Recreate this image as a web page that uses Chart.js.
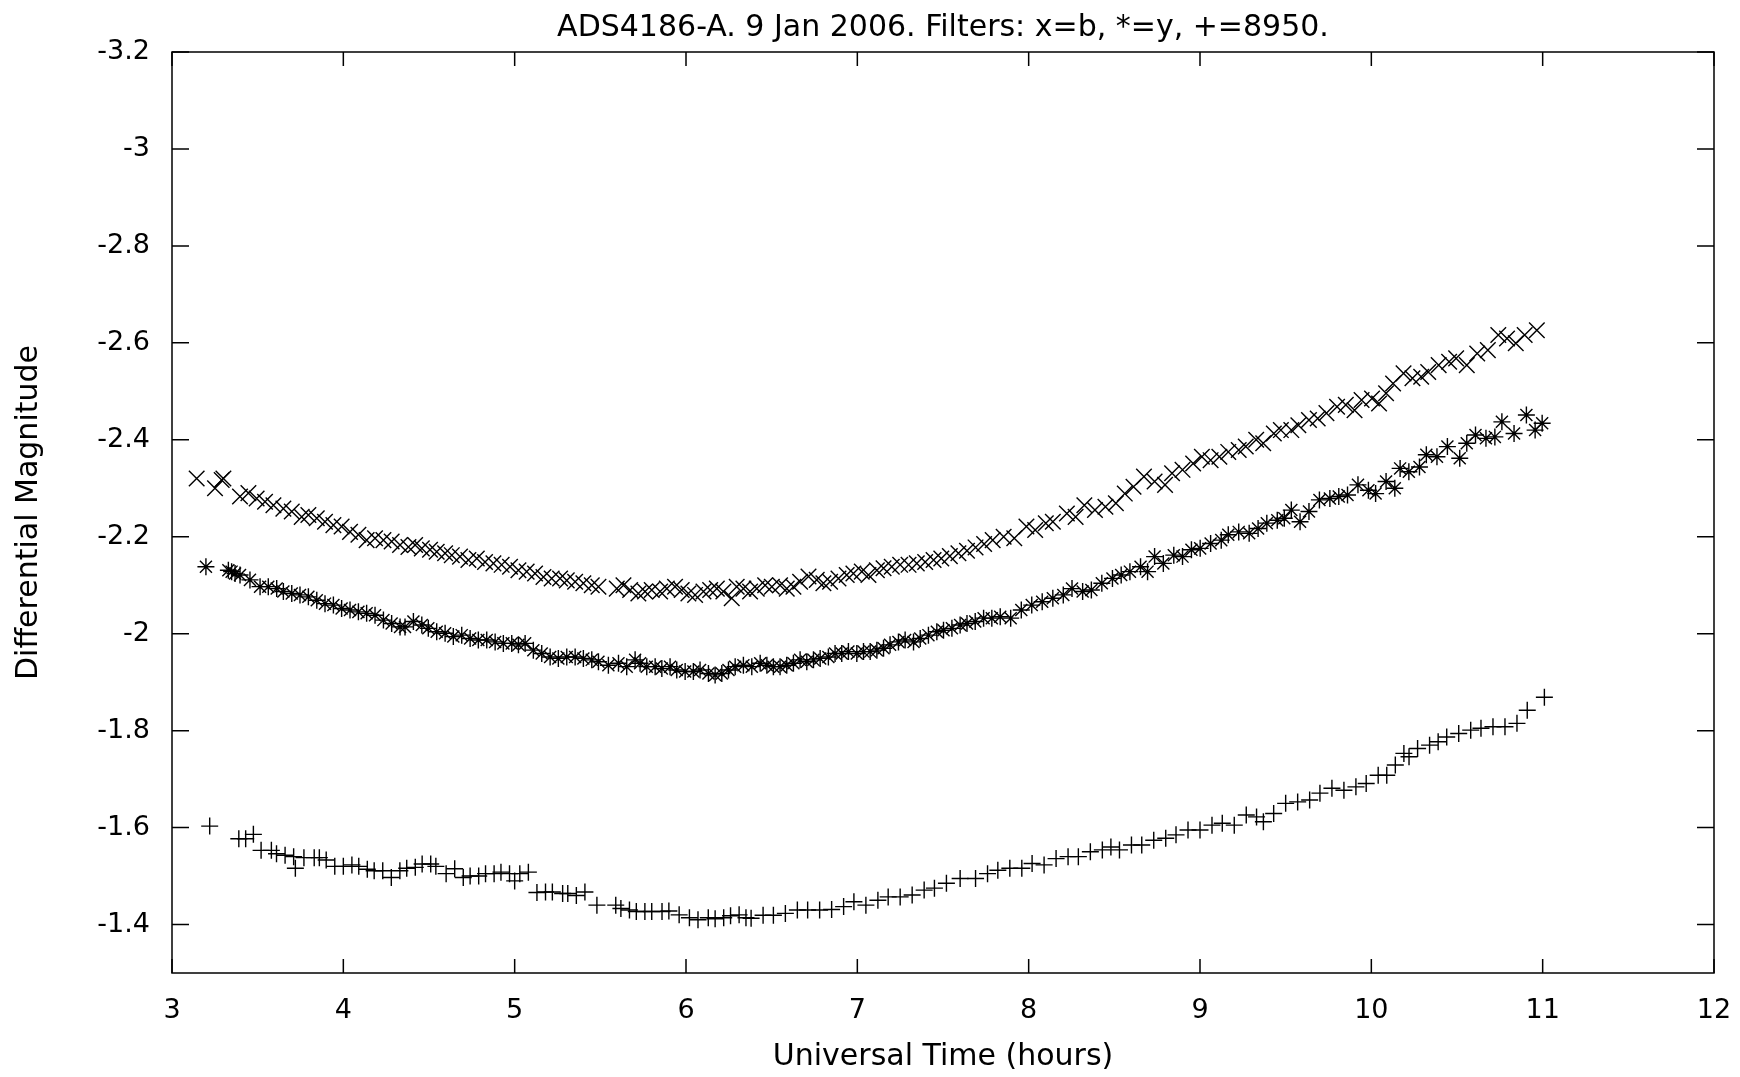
<!DOCTYPE html>
<html>
<head>
<meta charset="utf-8">
<title>ADS4186-A light curve</title>
<script src="https://cdn.jsdelivr.net/npm/chart.js@4.4.1/dist/chart.umd.min.js"></script>
<style>
  html, body { margin: 0; padding: 0; background: #fff; }
  #wrap { width: 1740px; height: 1077px; }
</style>
</head>
<body>
<div id="wrap"><canvas id="lc" width="1740" height="1077"></canvas></div>
<script>
// ---- data ----
const xTicks = [3, 4, 5, 6, 7, 8, 9, 10, 11, 12];
const yTicks = [-3.2, -3.0, -2.8, -2.6, -2.4, -2.2, -2.0, -1.8, -1.6, -1.4];

// x = b filter
const bTimes = [3.144, 3.251, 3.290, 3.300, 3.397, 3.446, 3.494, 3.543, 3.592, 3.650, 3.699, 3.757, 3.796, 3.845, 3.893, 3.942, 3.990, 4.039, 4.088, 4.136,
  4.185, 4.234, 4.282, 4.331, 4.380, 4.419, 4.458, 4.506, 4.545, 4.594, 4.633, 4.681, 4.730, 4.779, 4.827, 4.876, 4.924, 4.973, 5.022, 5.070,
  5.119, 5.168, 5.216, 5.265, 5.304, 5.353, 5.401, 5.450, 5.489, 5.596, 5.635, 5.674, 5.722, 5.761, 5.800, 5.849, 5.888, 5.936, 5.975, 6.014,
  6.053, 6.102, 6.141, 6.180, 6.218, 6.267, 6.296, 6.335, 6.374, 6.413, 6.462, 6.501, 6.549, 6.588, 6.627, 6.666, 6.715, 6.763, 6.802, 6.841,
  6.890, 6.938, 6.977, 7.026, 7.065, 7.114, 7.153, 7.201, 7.250, 7.299, 7.347, 7.396, 7.445, 7.49, 7.54, 7.59, 7.64, 7.69, 7.74, 7.79,
  7.854, 7.916, 7.987, 8.038, 8.100, 8.141, 8.223, 8.274, 8.325, 8.387, 8.448, 8.509, 8.561, 8.612, 8.673, 8.735, 8.796, 8.837, 8.898, 8.960,
  9.011, 9.062, 9.113, 9.165, 9.226, 9.267, 9.328, 9.369, 9.431, 9.472, 9.533, 9.574, 9.636, 9.687, 9.738, 9.800, 9.851, 9.902, 9.943, 10.004,
  10.045, 10.086, 10.127, 10.188, 10.240, 10.291, 10.332, 10.393, 10.454, 10.495, 10.557, 10.618, 10.680, 10.741, 10.792, 10.843, 10.895, 10.966];
const bMags = [-2.320, -2.300, -2.317, -2.320, -2.283, -2.290, -2.279, -2.272, -2.265, -2.258, -2.252, -2.241, -2.245, -2.238, -2.231, -2.224, -2.221, -2.210, -2.204, -2.193,
  -2.197, -2.193, -2.190, -2.183, -2.179, -2.183, -2.176, -2.173, -2.169, -2.166, -2.162, -2.159, -2.152, -2.155, -2.148, -2.145, -2.142, -2.138, -2.131, -2.128,
  -2.124, -2.117, -2.114, -2.114, -2.110, -2.107, -2.104, -2.100, -2.097, -2.093, -2.100, -2.090, -2.083, -2.087, -2.090, -2.087, -2.093, -2.097, -2.090, -2.083,
  -2.080, -2.087, -2.090, -2.093, -2.087, -2.073, -2.097, -2.093, -2.087, -2.093, -2.100, -2.097, -2.100, -2.093, -2.097, -2.107, -2.118, -2.111, -2.104, -2.107,
  -2.114, -2.121, -2.124, -2.128, -2.121, -2.131, -2.135, -2.138, -2.142, -2.142, -2.145, -2.148, -2.152, -2.155, -2.160, -2.166, -2.171, -2.178, -2.185, -2.193,
  -2.200, -2.197, -2.221, -2.214, -2.228, -2.231, -2.248, -2.241, -2.265, -2.255, -2.262, -2.269, -2.289, -2.303, -2.324, -2.314, -2.307, -2.331, -2.338, -2.351,
  -2.365, -2.358, -2.365, -2.375, -2.379, -2.386, -2.400, -2.393, -2.413, -2.420, -2.420, -2.430, -2.441, -2.444, -2.455, -2.468, -2.472, -2.461, -2.482, -2.485,
  -2.475, -2.496, -2.516, -2.537, -2.527, -2.530, -2.540, -2.554, -2.561, -2.568, -2.554, -2.578, -2.585, -2.616, -2.609, -2.599, -2.616, -2.626];

// * = y filter
const yTimes = [3.198, 3.329, 3.348, 3.368, 3.397, 3.455, 3.514, 3.562, 3.611, 3.650, 3.699, 3.747, 3.796, 3.845, 3.893, 3.942, 3.990, 4.039, 4.088, 4.136,
  4.185, 4.234, 4.282, 4.331, 4.360, 4.409, 4.458, 4.496, 4.545, 4.594, 4.642, 4.691, 4.740, 4.788, 4.837, 4.886, 4.934, 4.983, 5.022, 5.061,
  5.109, 5.158, 5.207, 5.255, 5.304, 5.353, 5.401, 5.450, 5.489, 5.547, 5.606, 5.654, 5.703, 5.732, 5.771, 5.820, 5.859, 5.907, 5.946, 5.995,
  6.043, 6.082, 6.131, 6.170, 6.209, 6.248, 6.287, 6.335, 6.384, 6.433, 6.472, 6.510, 6.549, 6.588, 6.627, 6.666, 6.705, 6.744, 6.783, 6.831,
  6.870, 6.909, 6.948, 6.997, 7.036, 7.075, 7.114, 7.153, 7.191, 7.240, 7.279, 7.328, 7.367, 7.415, 7.464, 7.503, 7.552, 7.600, 7.640, 7.688,
  7.737, 7.785, 7.834, 7.895, 7.957, 8.018, 8.079, 8.141, 8.202, 8.253, 8.315, 8.366, 8.427, 8.489, 8.540, 8.591, 8.653, 8.694, 8.735, 8.786,
  8.847, 8.898, 8.950, 9.001, 9.062, 9.124, 9.165, 9.226, 9.287, 9.339, 9.390, 9.451, 9.492, 9.533, 9.584, 9.636, 9.697, 9.758, 9.810, 9.861,
  9.922, 9.983, 10.025, 10.086, 10.137, 10.168, 10.219, 10.281, 10.321, 10.383, 10.444, 10.516, 10.557, 10.608, 10.669, 10.721, 10.762, 10.833, 10.905, 10.956,
  10.997];
const yMags = [-2.138, -2.131, -2.128, -2.124, -2.121, -2.111, -2.097, -2.097, -2.093, -2.087, -2.083, -2.080, -2.076, -2.069, -2.062, -2.059, -2.052, -2.049, -2.045, -2.042,
  -2.038, -2.028, -2.021, -2.014, -2.014, -2.025, -2.018, -2.011, -2.004, -2.001, -1.994, -1.997, -1.990, -1.987, -1.987, -1.983, -1.980, -1.980, -1.977, -1.980,
  -1.966, -1.959, -1.952, -1.949, -1.952, -1.952, -1.949, -1.946, -1.942, -1.935, -1.939, -1.932, -1.946, -1.939, -1.932, -1.932, -1.928, -1.932, -1.925, -1.922,
  -1.922, -1.925, -1.918, -1.915, -1.918, -1.925, -1.932, -1.935, -1.932, -1.939, -1.935, -1.932, -1.932, -1.935, -1.939, -1.946, -1.942, -1.946, -1.949, -1.952,
  -1.959, -1.959, -1.963, -1.959, -1.963, -1.963, -1.966, -1.970, -1.977, -1.983, -1.987, -1.983, -1.990, -1.997, -2.004, -2.007, -2.011, -2.018, -2.021, -2.025,
  -2.032, -2.032, -2.035, -2.032, -2.049, -2.059, -2.066, -2.073, -2.080, -2.093, -2.087, -2.090, -2.104, -2.114, -2.121, -2.128, -2.138, -2.128, -2.159, -2.145,
  -2.162, -2.159, -2.173, -2.176, -2.186, -2.193, -2.204, -2.210, -2.207, -2.217, -2.228, -2.234, -2.238, -2.255, -2.231, -2.252, -2.276, -2.279, -2.283, -2.286,
  -2.307, -2.296, -2.289, -2.314, -2.300, -2.341, -2.334, -2.344, -2.369, -2.365, -2.386, -2.362, -2.393, -2.410, -2.403, -2.406, -2.437, -2.413, -2.451, -2.420,
  -2.434];

// + = 8950 filter
const nTimes = [3.22, 3.39, 3.43, 3.475, 3.52, 3.58, 3.61, 3.66, 3.71, 3.72, 3.77, 3.83, 3.86, 3.90, 3.95, 4.00, 4.05, 4.09, 4.14, 4.18,
  4.23, 4.28, 4.33, 4.37, 4.42, 4.46, 4.51, 4.54, 4.60, 4.65, 4.70, 4.74, 4.79, 4.83, 4.88, 4.92, 4.97, 5.00, 5.03, 5.08,
  5.13, 5.18, 5.22, 5.28, 5.31, 5.36, 5.41, 5.48, 5.59, 5.62, 5.67, 5.71, 5.76, 5.80, 5.86, 5.90, 5.96, 6.02, 6.07, 6.13,
  6.17, 6.22, 6.26, 6.31, 6.35, 6.38, 6.45, 6.51, 6.58, 6.65, 6.71, 6.78, 6.85, 6.92, 6.98, 7.05, 7.12, 7.18, 7.25, 7.32,
  7.39, 7.45, 7.52, 7.60, 7.69, 7.76, 7.82, 7.89, 7.96, 8.02, 8.09, 8.16, 8.23, 8.29, 8.36, 8.43, 8.48, 8.53, 8.60, 8.66,
  8.73, 8.80, 8.86, 8.93, 9.00, 9.07, 9.13, 9.20, 9.27, 9.33, 9.37, 9.43, 9.50, 9.57, 9.64, 9.70, 9.77, 9.84, 9.91, 9.97,
  10.04, 10.09, 10.14, 10.19, 10.22, 10.27, 10.34, 10.39, 10.44, 10.51, 10.58, 10.64, 10.71, 10.78, 10.85, 10.91, 11.01];
const nMags = [-1.603, -1.577, -1.577, -1.586, -1.553, -1.553, -1.546, -1.543, -1.540, -1.516, -1.538, -1.538, -1.538, -1.533, -1.520, -1.520, -1.523, -1.520, -1.514, -1.511,
  -1.511, -1.497, -1.511, -1.516, -1.518, -1.525, -1.525, -1.520, -1.505, -1.515, -1.497, -1.500, -1.500, -1.505, -1.505, -1.508, -1.505, -1.490, -1.505, -1.508,
  -1.466, -1.467, -1.467, -1.464, -1.464, -1.460, -1.467, -1.440, -1.440, -1.433, -1.430, -1.427, -1.427, -1.427, -1.427, -1.428, -1.420, -1.414, -1.410, -1.414,
  -1.412, -1.414, -1.418, -1.420, -1.414, -1.413, -1.419, -1.419, -1.423, -1.430, -1.430, -1.430, -1.431, -1.437, -1.447, -1.440, -1.450, -1.457, -1.457, -1.461,
  -1.471, -1.475, -1.485, -1.495, -1.495, -1.505, -1.512, -1.516, -1.516, -1.526, -1.523, -1.536, -1.540, -1.540, -1.550, -1.554, -1.560, -1.554, -1.564, -1.564,
  -1.574, -1.578, -1.585, -1.595, -1.595, -1.605, -1.609, -1.605, -1.626, -1.622, -1.612, -1.629, -1.650, -1.653, -1.657, -1.671, -1.681, -1.677, -1.684, -1.691,
  -1.708, -1.708, -1.729, -1.753, -1.746, -1.763, -1.770, -1.777, -1.787, -1.794, -1.801, -1.805, -1.808, -1.808, -1.815, -1.842, -1.869];

const FONT = "'DejaVu Sans', 'Liberation Sans', sans-serif";

function pairs(xs, ys) {
  return xs.map((x, i) => ({ x: x, y: ys[i] }));
}

function series(label, xs, ys, style, r) {
  return {
    label: label,
    data: pairs(xs, ys),
    showLine: false,
    pointStyle: style,
    pointRadius: r,
    pointHoverRadius: r,
    borderColor: '#000',
    backgroundColor: '#000',
    pointBorderWidth: 1.4
  };
}

// no label overflow padding, so the plot box is set by the layout alone
function noPad(s) {
  s.paddingLeft = 0; s.paddingRight = 0;
  s.paddingTop = 0; s.paddingBottom = 0;
}

// gnuplot-like frame with inward ticks on all four sides
const framePlugin = {
  id: 'frame',
  afterDraw(chart) {
    const ctx = chart.ctx;
    const a = chart.chartArea;
    const xs = chart.scales.x, ys = chart.scales.y;
    ctx.save();
    ctx.strokeStyle = '#000';
    ctx.lineWidth = 1.5;
    ctx.strokeRect(a.left, a.top, a.right - a.left, a.bottom - a.top);
    ctx.beginPath();
    xTicks.forEach(v => {
      const px = xs.getPixelForValue(v);
      ctx.moveTo(px, a.bottom); ctx.lineTo(px, a.bottom - 14);
      ctx.moveTo(px, a.top); ctx.lineTo(px, a.top + 14);
    });
    yTicks.forEach(v => {
      const py = ys.getPixelForValue(v);
      ctx.moveTo(a.left, py); ctx.lineTo(a.left + 17, py);
      ctx.moveTo(a.right, py); ctx.lineTo(a.right - 17, py);
    });
    ctx.stroke();
    ctx.restore();
  }
};

const ctx = document.getElementById('lc').getContext('2d');
const chart = new Chart(ctx, {
  type: 'scatter',
  data: {
    datasets: [
      series('b', bTimes, bMags, 'crossRot', 11),
      series('y', yTimes, yMags, 'star', 8.5),
      series('8950', nTimes, nMags, 'cross', 8.5)
    ]
  },
  options: {
    responsive: false,
    animation: false,
    devicePixelRatio: 1,
    layout: { padding: { top: 0, right: 26, bottom: 0, left: 0 } },
    plugins: {
      legend: { display: false },
      tooltip: { enabled: false },
      title: {
        display: true,
        fullSize: false,
        text: 'ADS4186-A. 9 Jan 2006. Filters: x=b, *=y, +=8950.',
        color: '#000',
        font: { family: FONT, size: 30, weight: 'normal' },
        padding: { top: 10, bottom: 6 }
      }
    },
    scales: {
      x: {
        type: 'linear',
        min: 3,
        max: 12,
        afterBuildTicks: s => { s.ticks = xTicks.map(v => ({ value: v })); },
        afterFit: s => { s.height = 104; noPad(s); },
        grid: { display: false, drawTicks: false },
        border: { display: false },
        ticks: {
          color: '#000',
          padding: 22,
          maxRotation: 0,
          font: { family: FONT, size: 27 },
          callback: v => String(v)
        },
        title: {
          display: true,
          text: 'Universal Time (hours)',
          color: '#000',
          font: { family: FONT, size: 30 },
          padding: { top: 0, bottom: 2 }
        }
      },
      y: {
        type: 'linear',
        reverse: true,
        min: -3.2,
        max: -1.3,
        afterBuildTicks: s => { s.ticks = yTicks.map(v => ({ value: v })); },
        afterFit: s => { s.width = 172; noPad(s); },
        grid: { display: false, drawTicks: false },
        border: { display: false },
        ticks: {
          color: '#000',
          padding: 22,
          font: { family: FONT, size: 27 },
          callback: v => String(Math.round(v * 10) / 10)
        },
        title: {
          display: true,
          text: 'Differential Magnitude',
          color: '#000',
          font: { family: FONT, size: 30 },
          padding: { top: 11, bottom: 0 }
        }
      }
    }
  },
  plugins: [framePlugin]
});
</script>
</body>
</html>
